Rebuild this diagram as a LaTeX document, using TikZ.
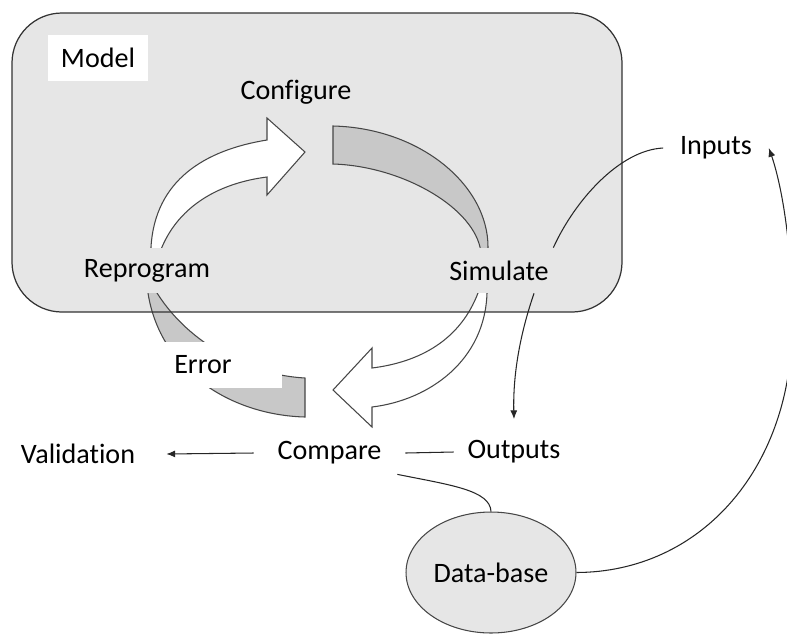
\documentclass[tikz,border=0pt]{standalone}
\usepackage{fontspec}
\setmainfont{Carlito}[Ligatures=NoCommon]
\usetikzlibrary{arrows.meta}
\usetikzlibrary{shapes.geometric}
\usetikzlibrary{calc}
\definecolor{boxgray}{RGB}{230,230,230}
\definecolor{bandgray}{RGB}{200,200,200}
\definecolor{edgegray}{RGB}{70,70,70}

\begin{document}
\begin{tikzpicture}[x=0.02cm, y=-0.02cm, % one unit is one pixel of the sketch
	>={Latex[length=5pt, width=4pt]},
	every node/.style={font=\fontsize{16}{19}\selectfont, inner sep=0pt},
	band/.style={draw=edgegray, line width=0.6pt},
	link/.style={draw=black!85, line width=0.6pt},
	inlabel/.style={fill=boxgray, minimum height=0.9cm}]
	\useasboundingbox (0,0) rectangle (787,633);
	
	% Model area
	\fill[boxgray, rounded corners=1cm] (12,13) rectangle (622,312);
	\node[fill=white, minimum width=2cm, minimum height=0.92cm] (model) at (98,58) {Model};
	
	% Reprogram -> Configure (white arrow)
	\draw[band, fill=white] (151,260) -- (151,247) .. controls (155,180) and (205,150) .. (267,140)
	-- (267,118) -- (305,152) -- (267,195) -- (267,177)
	.. controls (220,183) and (180,205) .. (162,247) -- (157,260) -- cycle;
	
	% Configure -> Simulate (grey band)
	\draw[band, fill=bandgray] (333,126) .. controls (420,128) and (488,185) .. (488,247) -- (488,258)
	-- (482,258) -- (480,247) .. controls (470,205) and (400,166) .. (333,164) -- cycle;
	
	% Simulate -> Compare (white arrow)
	\draw[band, fill=white] (487,282) -- (487,293) .. controls (485,360) and (430,400) .. (372,407)
	-- (372,427) -- (333,390) -- (372,348) -- (372,368)
	.. controls (420,362) and (460,340) .. (478,293) -- (482,282) -- cycle;
	
	% Reprogram -> Compare (grey band, Error)
	\draw[band, fill=bandgray] (146,282) -- (148,293) .. controls (160,370) and (230,415) .. (305,417)
	-- (305,378) .. controls (250,375) and (190,345) .. (157,293) -- (150,282) -- cycle;
	
	% Outline of the model area
	\draw[line width=0.7pt, draw=black!80, rounded corners=1cm] (12,13) rectangle (622,312);
	
	% Labels
	\node (configure) at (296,92) {Configure};
	\node[inlabel, minimum width=2.9cm] (reprogram) at (147,270.5) {Reprogram};
	\node[inlabel, minimum width=2.16cm] (simulate) at (499,270.5) {Simulate};
	\node[fill=white, minimum width=3.16cm, minimum height=0.92cm] (error) at (203,365) {Error};
	\node[minimum width=3.02cm, minimum height=0.84cm] (compare) at (329.5,453) {Compare};
	\node[minimum width=3.52cm] (validation) at (78,454) {Validation};
	\node[minimum width=2.4cm, minimum height=1.3cm] (outputs) at (514,452) {Outputs};
	\node[minimum width=2.1cm] (inputs) at (716,148) {Inputs};
	\node[ellipse, draw=edgegray, line width=0.6pt, fill=boxgray, minimum width=3.4cm, minimum height=2.42cm] (database) at (491,572.5) {Data-base};
	
	% Connectors
	\draw[link, ->] (compare.west) -- (validation.east);
	\draw[link] (compare.east) -- (outputs.west);
	\draw[link] ($(compare.south east)+(-8,0)$) .. controls (450,485) and (490,490) .. (database.north);
	\draw[link, ->] (database.east) .. controls (700,572) and (790,470) .. (792,330)
	.. controls (793,240) and (780,180) .. (inputs.east);
	\draw[link] (inputs.west) .. controls (620,150) and (575,200) .. (simulate.north east);
	\draw[link, ->] ($(simulate.south)+(35,0)$) .. controls (518,340) and (513,380) .. (outputs.north);
\end{tikzpicture}
\end{document}
